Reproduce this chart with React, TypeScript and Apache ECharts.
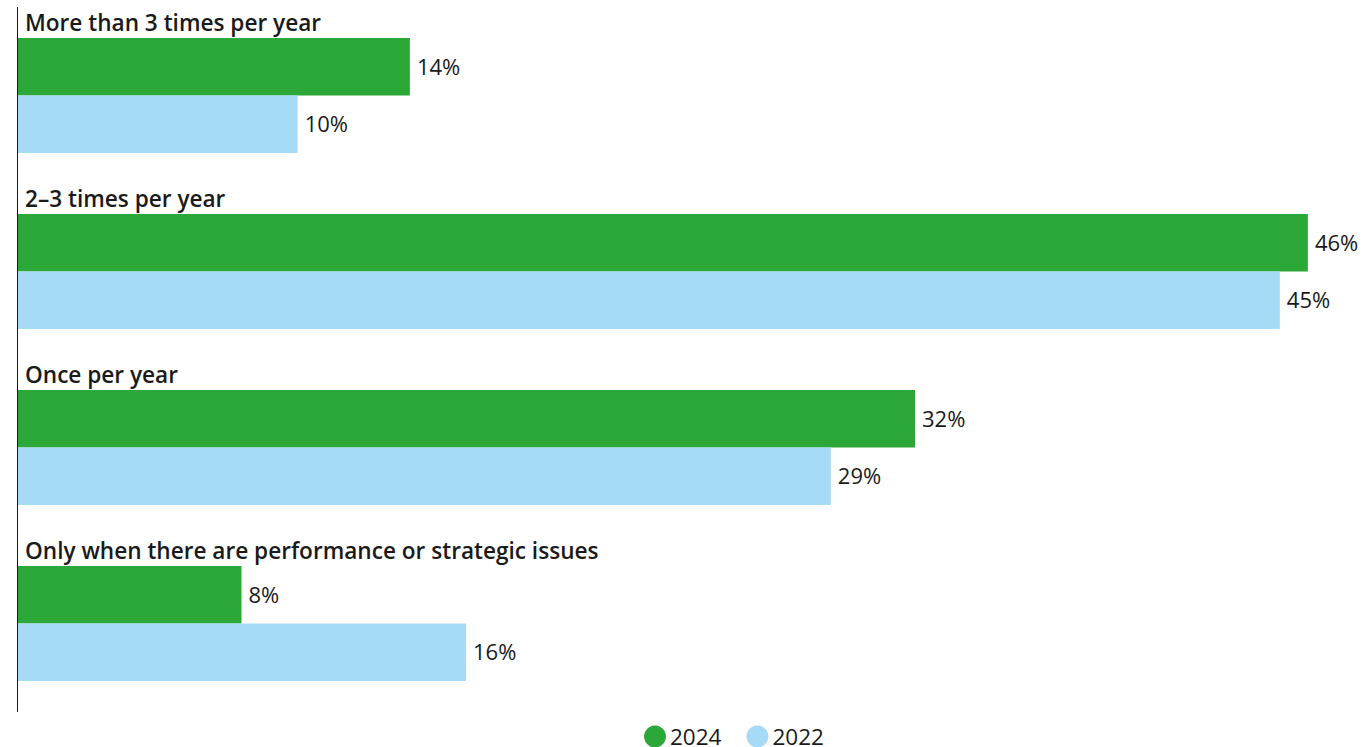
import React, { useEffect, useRef } from "react";
import * as echarts from "echarts";

const categories = [
  "More than 3 times per year",
  "2–3 times per year",
  "Once per year",
  "Only when there are performance or strategic issues",
];
const values2024 = [14, 46, 32, 8];
const values2022 = [10, 45, 29, 16];
const seriesNames = ["2024", "2022"];

const FONT = "'Open Sans', 'Noto Sans', sans-serif";

export default function App() {
  const ref = useRef<HTMLDivElement>(null);
  useEffect(() => {
    document.body.style.margin = "0";
    const chart = echarts.init(ref.current!, null, { renderer: "svg" });
    const valueLabel = {
      show: true,
      position: "right" as const,
      distance: 7,
      formatter: "{c}%",
      color: "#1a1a1a",
      fontSize: 22,
      fontFamily: FONT,
      offset: [0, -1],
    };
    chart.setOption({
      animation: false,
      textStyle: { fontFamily: FONT },
      grid: { left: 17, right: 2, top: 7.5, bottom: 35.5, containLabel: false },
      legend: {
        data: seriesNames,
        left: 644,
        top: 725,
        padding: 0,
        icon: "circle",
        itemWidth: 22,
        itemHeight: 22,
        itemGap: 25,
        textStyle: {
          fontSize: 22.5,
          lineHeight: 22,
          color: "#1a1a1a",
          fontFamily: FONT,
          padding: [0, 0, 0, -1],
        },
      },
      xAxis: { type: "value", min: 0, max: 48, show: false },
      yAxis: {
        type: "category",
        data: categories,
        inverse: true,
        axisLine: { show: true, lineStyle: { color: "#1a1a1a", width: 1 } },
        axisTick: { show: false },
        axisLabel: { show: false },
        z: 10,
      },
      series: [
        {
          name: seriesNames[0],
          type: "bar",
          data: values2024,
          barWidth: 57.5,
          barGap: "0%",
          itemStyle: { color: "#2ca838" },
          label: valueLabel,
        },
        {
          name: seriesNames[1],
          type: "bar",
          data: values2022,
          barWidth: 57.5,
          barGap: "0%",
          itemStyle: { color: "#a6dbf8" },
          label: valueLabel,
        },
      ],
    });
    const x0 = chart.convertToPixel({ xAxisIndex: 0 }, 0) as number;
    chart.setOption({
      graphic: categories.map((c, i) => {
        const yc = chart.convertToPixel({ yAxisIndex: 0 }, i) as number;
        return {
          type: "text",
          x: x0 + 8,
          y: yc - 73,
          style: {
            text: c,
            fontSize: 22.6,
            fontWeight: 600,
            fill: "#1a1a1a",
            fontFamily: FONT,
            verticalAlign: "middle",
            align: "left",
          },
        };
      }),
    });
    const onResize = () => chart.resize();
    window.addEventListener("resize", onResize);
    return () => {
      window.removeEventListener("resize", onResize);
      chart.dispose();
    };
  }, []);
  return (
    <div
      ref={ref}
      style={{ position: "absolute", left: 0, top: 0, width: 1366, height: 747 }}
    />
  );
}
